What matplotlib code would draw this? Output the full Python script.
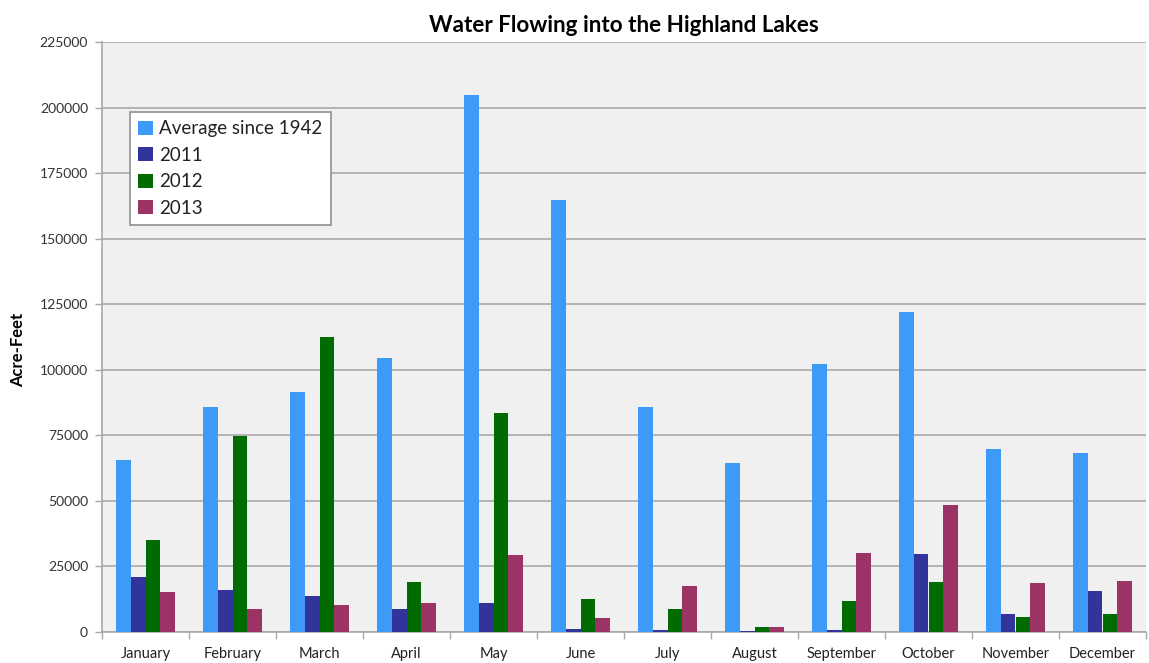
import matplotlib
matplotlib.use("Agg")
import matplotlib.pyplot as plt
import numpy as np

months = ["January", "February", "March", "April", "May", "June", "July",
          "August", "September", "October", "November", "December"]
avg_since_1942 = [65600, 85700, 91500, 104500, 204800, 164700, 85700,
                  64300, 102200, 122000, 69900, 68300]
y2011 = [21100, 16000, 13700, 8800, 10900, 1300, 700, 200, 650, 29800, 6700, 15800]
y2012 = [35100, 74900, 112500, 19200, 83400, 12500, 8800, 1800, 11900, 19100, 5700, 6700]
y2013 = [15400, 8700, 10300, 11000, 29400, 5500, 17500, 1800, 30000, 48300, 18600, 19300]
series_names = ["Average since 1942", "2011", "2012", "2013"]
yticks = [0, 25000, 50000, 75000, 100000, 125000, 150000, 175000, 200000, 225000]

colors = ["#3d9bf7", "#33339c", "#006b00", "#9c3366"]
plt.rcParams["font.family"] = ["Lato", "DejaVu Sans"]

fig = plt.figure(figsize=(11.49, 6.63), dpi=100)
ax = fig.add_axes([102 / 1149, 1 - 632 / 663, 1044 / 1149, 590 / 663])
ax.set_facecolor("#f0f0f0")

x = np.arange(len(months))
w = 0.17
data = [avg_since_1942, y2011, y2012, y2013]
for i, (vals, name, c) in enumerate(zip(data, series_names, colors)):
    ax.bar(x + (i - 1.5) * w, vals, width=w, color=c, label=name, zorder=3)

ax.set_xlim(-0.5, len(months) - 0.5)
ax.set_ylim(0, 225000)
ax.set_yticks(yticks)
ax.set_yticklabels([str(v) for v in yticks], fontsize=10, color="#333333")
ax.yaxis.grid(True, color="#a8a8a8", linewidth=1.2, zorder=0)
ax.set_xticks(x)
ax.set_xticklabels(months, fontsize=10.5, color="#222222")
ax.tick_params(axis="x", length=0, pad=11)
ax.set_xticks(np.arange(-0.5, len(months), 1), minor=True)
ax.tick_params(axis="x", which="minor", length=5, color="#a8a8a8", width=1)
ax.tick_params(axis="y", length=5, color="#a8a8a8", width=1, pad=5)

for side in ["top", "right"]:
    ax.spines[side].set_visible(False)
for side in ["left", "bottom"]:
    ax.spines[side].set_color("#a8a8a8")
    ax.spines[side].set_linewidth(1.2)

ax.set_ylabel("Acre-Feet", fontsize=12, fontweight="bold")
ax.yaxis.set_label_coords(-76 / 1044, 282 / 590)
ax.set_title("Water Flowing into the Highland Lakes", fontsize=16.2,
             fontweight="bold", pad=7)

leg = ax.legend(loc="upper left", bbox_to_anchor=(28 / 1044, 1 - 70 / 590),
                fontsize=13.5, frameon=True, fancybox=False,
                handlelength=0.75, handleheight=0.75, handletextpad=0.35,
                labelspacing=0.5, borderpad=0.45, borderaxespad=0)
leg.get_frame().set_edgecolor("#909090")
leg.get_frame().set_facecolor("white")
leg.get_frame().set_alpha(1)
leg.get_frame().set_linewidth(1.2)
for t in leg.get_texts():
    t.set_color("#222222")

fig.savefig("out.png", dpi=100)
